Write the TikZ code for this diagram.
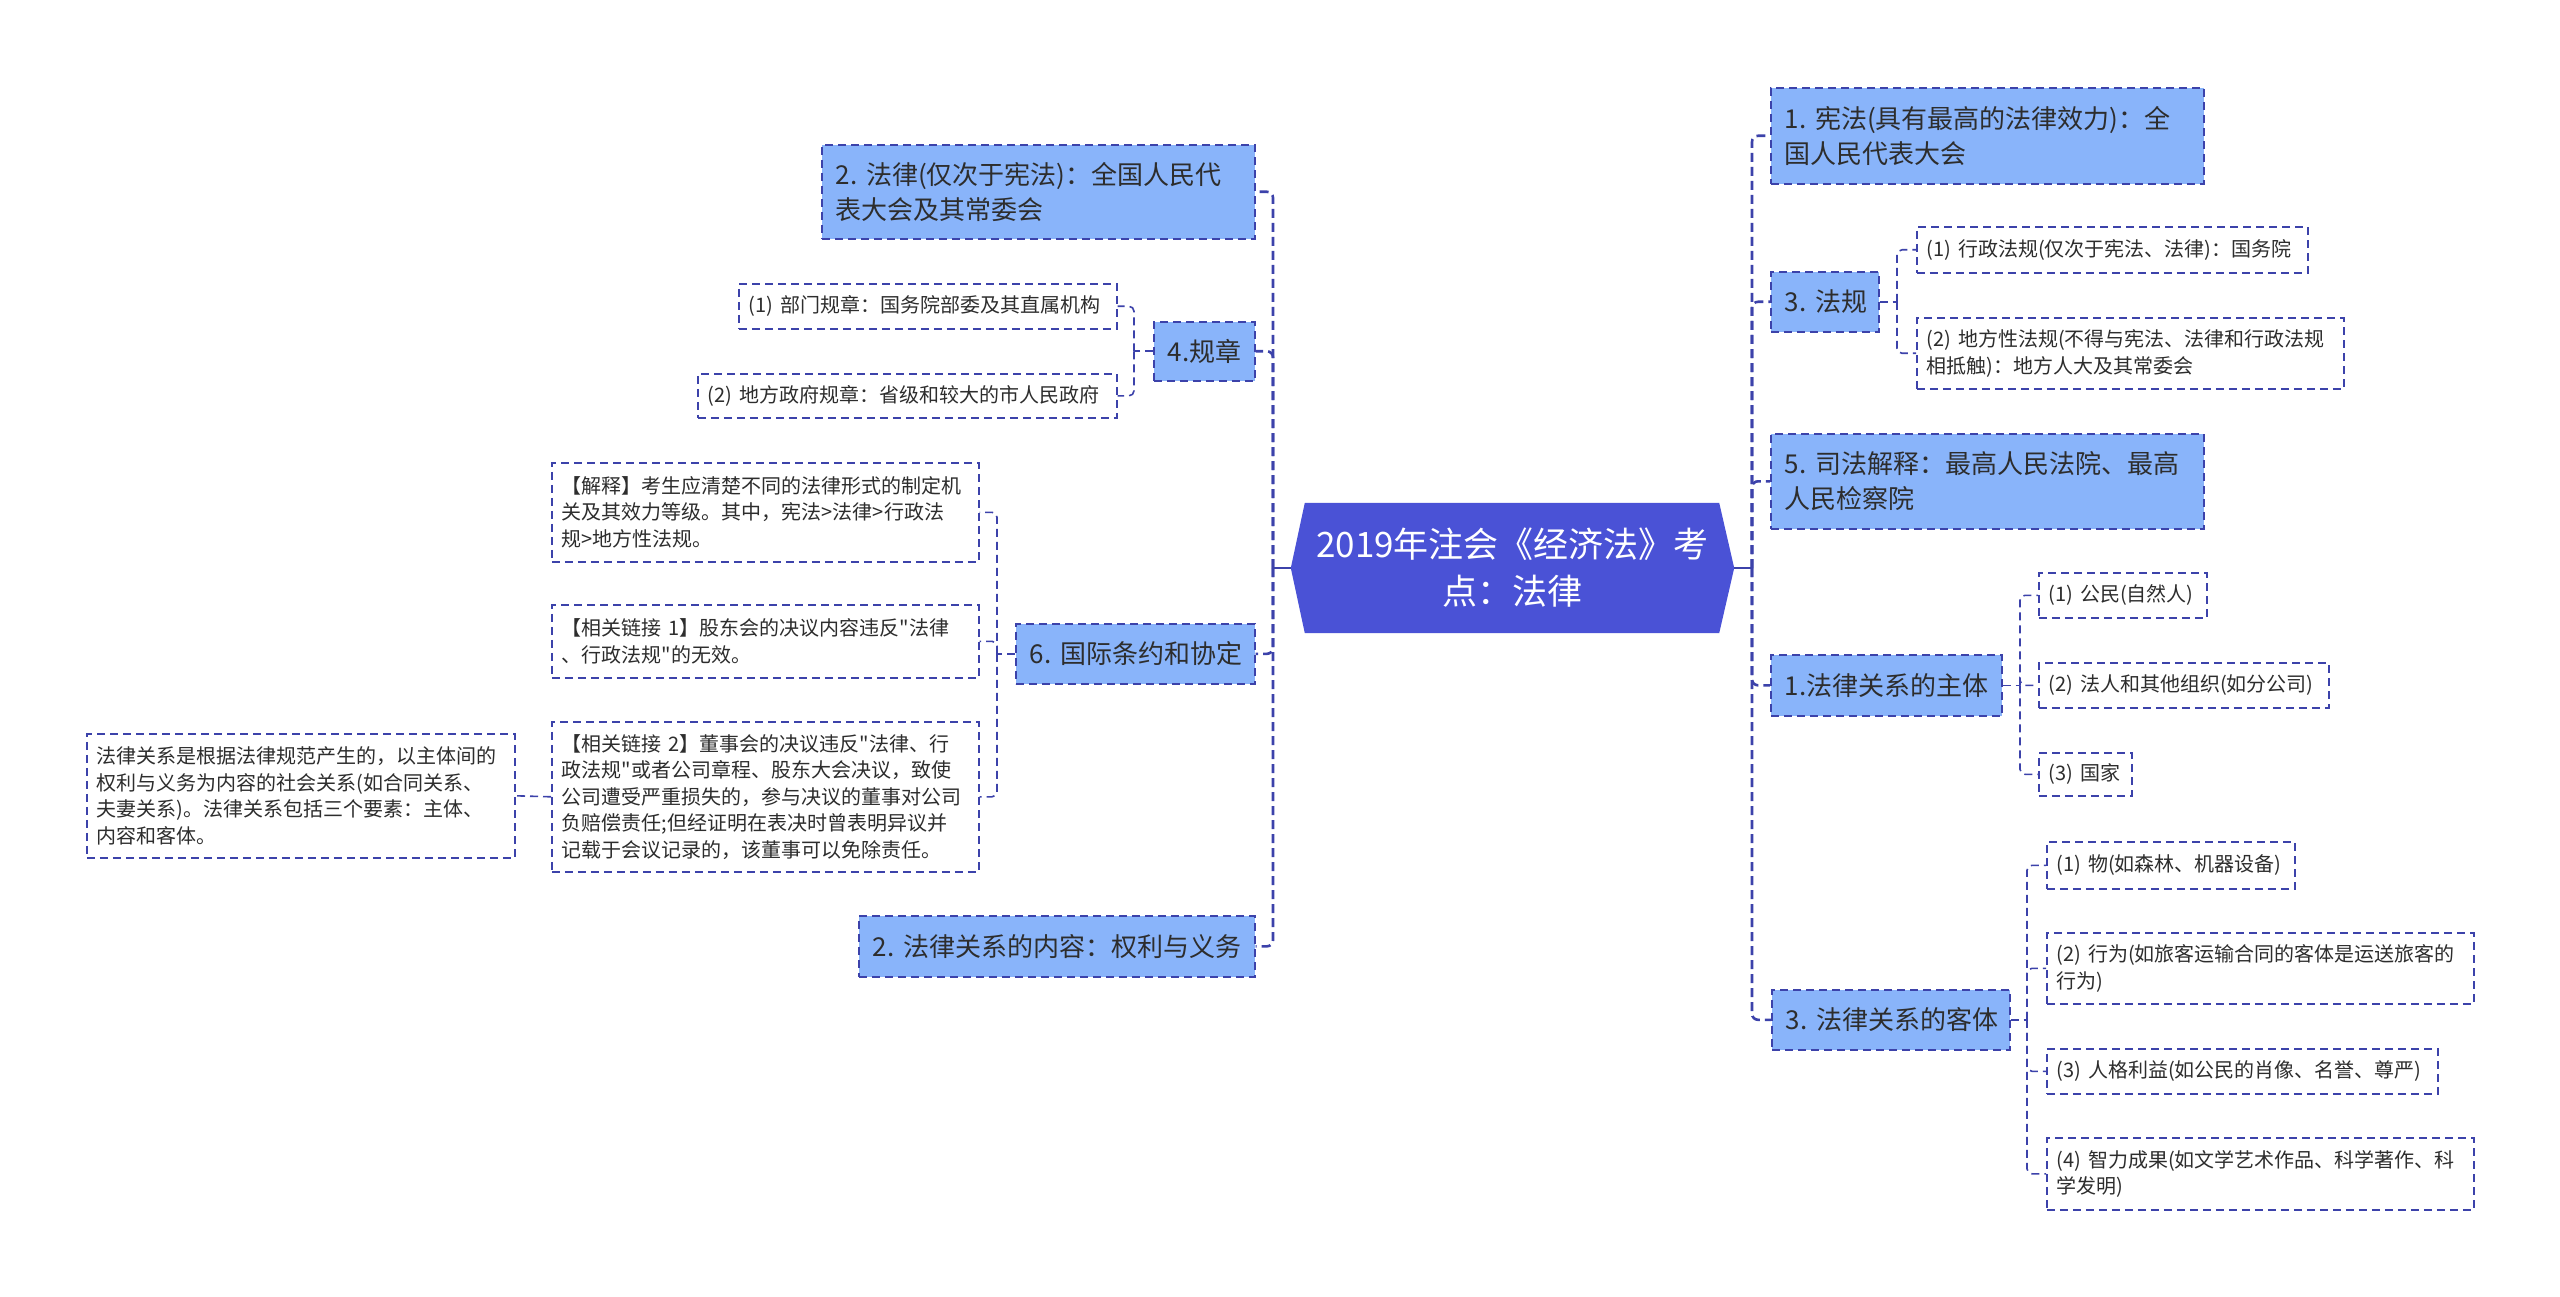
\documentclass[tikz,border=0pt]{standalone}
\usepackage{fontspec}
\setmainfont{Noto Sans CJK SC}
\setmonofont{Noto Sans CJK SC}
\pgfdeclarelayer{bg}
\pgfsetlayers{bg,main}
\definecolor{lineC}{RGB}{60,66,170}
\definecolor{lvfill}{RGB}{137,180,250}
\definecolor{centfill}{RGB}{74,82,214}
\definecolor{txt}{RGB}{45,45,45}
\tikzset{
  box/.style={draw=lineC, line width=1.6pt, dash pattern=on 8pt off 5pt, anchor=north west, align=left, inner ysep=0pt, text=txt},
  lvone/.style={box, fill=lvfill, font=\ttfamily\fontsize{26}{35}\selectfont, inner xsep=14pt},
  lvtwo/.style={box, fill=white, font=\ttfamily\fontsize{20}{26.5}\selectfont, inner xsep=10pt},
  centre/.style={draw=none, text=white, align=center, inner sep=0pt, minimum width=443pt, minimum height=130pt, font=\ttfamily\fontsize{35}{47}\selectfont},
  conn/.style={draw=lineC, line width=1.6pt, dash pattern=on 8pt off 5pt, rounded corners=5pt},
  trunk/.style={draw=lineC, line width=2.6pt, dash pattern=on 9pt off 5pt, rounded corners=6pt},
  trunksolid/.style={draw=lineC, line width=2.6pt},
}
\begin{document}
\begin{tikzpicture}[x=1pt,y=-1pt]
\useasboundingbox (0,0) rectangle (2560,1297);

% central
\node[centre] (C) at (1512.5,568) {2019年注会《经济法》考\\点：法律};

% left side
\node[lvone, text width=405pt, minimum height=94pt] (A2) at (821,144) {2.~法律(仅次于宪法)：全国人民代\\表大会及其常委会};
\node[lvone, text width=73pt, minimum height=59pt] (G4) at (1153,321) {4.规章};
\node[lvtwo, text width=358pt, minimum height=45pt] (G4a) at (738,283) {(1)~部门规章：国务院部委及其直属机构};
\node[lvtwo, text width=399pt, minimum height=44pt] (G4b) at (697,373) {(2)~地方政府规章：省级和较大的市人民政府};
\node[lvone, text width=211pt, minimum height=60pt] (N6) at (1015,623) {6.~国际条约和协定};
\node[lvtwo, text width=407pt, minimum height=99pt] (N6a) at (551,462) {【解释】考生应清楚不同的法律形式的制定机\\关及其效力等级。其中，宪法>法律>行政法\\规>地方性法规。};
\node[lvtwo, text width=407pt, minimum height=73pt] (N6b) at (551,604) {【相关链接~1】股东会的决议内容违反"法律\\、行政法规"的无效。};
\node[lvtwo, text width=407pt, minimum height=150pt] (N6c) at (551,721) {【相关链接~2】董事会的决议违反"法律、行\\政法规"或者公司章程、股东大会决议，致使\\公司遭受严重损失的，参与决议的董事对公司\\负赔偿责任;但经证明在表决时曾表明异议并\\记载于会议记录的，该董事可以免除责任。};
\node[lvtwo, text width=408pt, minimum height=124pt] (N6c1) at (86,733) {法律关系是根据法律规范产生的，以主体间的\\权利与义务为内容的社会关系(如合同关系、\\夫妻关系)。法律关系包括三个要素：主体、\\内容和客体。};
\node[lvone, text width=368pt, minimum height=61pt] (C2) at (858,915) {2.~法律关系的内容：权利与义务};

% right side
\node[lvone, text width=405pt, minimum height=96pt] (R1) at (1770,87) {1.~宪法(具有最高的法律效力)：全\\国人民代表大会};
\node[lvone, text width=80pt, minimum height=60pt] (R3) at (1770,271) {3.~法规};
\node[lvtwo, text width=371pt, minimum height=46pt] (R3a) at (1916,226) {(1)~行政法规(仅次于宪法、法律)：国务院};
\node[lvtwo, text width=407pt, minimum height=71pt] (R3b) at (1916,317) {(2)~地方性法规(不得与宪法、法律和行政法规\\相抵触)：地方人大及其常委会};
\node[lvone, text width=405pt, minimum height=95pt] (R5) at (1770,433) {5.~司法解释：最高人民法院、最高\\人民检察院};
\node[lvone, text width=203pt, minimum height=61pt] (S1) at (1770,654) {1.法律关系的主体};
\node[lvtwo, text width=148pt, minimum height=45pt] (S1a) at (2038,572) {(1)~公民(自然人)};
\node[lvtwo, text width=270pt, minimum height=45pt] (S1b) at (2038,662) {(2)~法人和其他组织(如分公司)};
\node[lvtwo, text width=73pt, minimum height=43pt] (S1c) at (2038,752) {(3)~国家};
\node[lvone, text width=210pt, minimum height=60pt] (O3) at (1771,989) {3.~法律关系的客体};
\node[lvtwo, text width=228pt, minimum height=47pt] (O3a) at (2046,841) {(1)~物(如森林、机器设备)};
\node[lvtwo, text width=407pt, minimum height=71pt] (O3b) at (2046,932) {(2)~行为(如旅客运输合同的客体是运送旅客的\\行为)};
\node[lvtwo, text width=371pt, minimum height=45pt] (O3c) at (2046,1048) {(3)~人格利益(如公民的肖像、名誉、尊严)};
\node[lvtwo, text width=407pt, minimum height=72pt] (O3d) at (2046,1137) {(4)~智力成果(如文学艺术作品、科学著作、科\\学发明)};

% bus coordinates
\coordinate (busL) at (1273,0);
\coordinate (busR) at (1752,0);
\coordinate (bG4) at (1134,0);
\coordinate (bN6) at (997,0);
\coordinate (bR3) at (1897,0);
\coordinate (bS1) at (2020,0);
\coordinate (bO3) at (2027,0);

% background and central shape
\begin{pgfonlayer}{bg}
\fill[white] (0,0) rectangle (2560,1297);
\fill[centfill] ([xshift=14pt]C.north west) -- ([xshift=-15pt]C.north east) -- (C.east)
  -- ([xshift=-15pt]C.south east) -- ([xshift=14pt]C.south west) -- (C.west) -- cycle;
\end{pgfonlayer}

% main trunks
\draw[trunksolid] (C.west) -- (C.west -| busL);
\foreach \n in {A2,G4,N6,C2} \draw[trunk] (C.west -| busL) |- (\n.east);
\draw[trunksolid] (C.east) -- (C.east -| busR);
\foreach \n in {R1,R3,R5,S1,O3} \draw[trunk] (C.east -| busR) |- (\n.west);

% sub connectors
\draw[conn] (G4.west) -- (G4.west -| bG4);
\foreach \n in {G4a,G4b} \draw[conn] (G4.west -| bG4) |- (\n.east);
\draw[conn] (N6.west) -- (N6.west -| bN6);
\foreach \n in {N6a,N6b,N6c} \draw[conn] (N6.west -| bN6) |- (\n.east);
\draw[conn] (N6c.west) -- (N6c1.east);
\draw[conn] (R3.east) -- (R3.east -| bR3);
\foreach \n in {R3a,R3b} \draw[conn] (R3.east -| bR3) |- (\n.west);
\draw[conn] (S1.east) -- (S1.east -| bS1);
\foreach \n in {S1a,S1b,S1c} \draw[conn] (S1.east -| bS1) |- (\n.west);
\draw[conn] (O3.east) -- (O3.east -| bO3);
\foreach \n in {O3a,O3b,O3c,O3d} \draw[conn] (O3.east -| bO3) |- (\n.west);
\end{tikzpicture}
\end{document}
